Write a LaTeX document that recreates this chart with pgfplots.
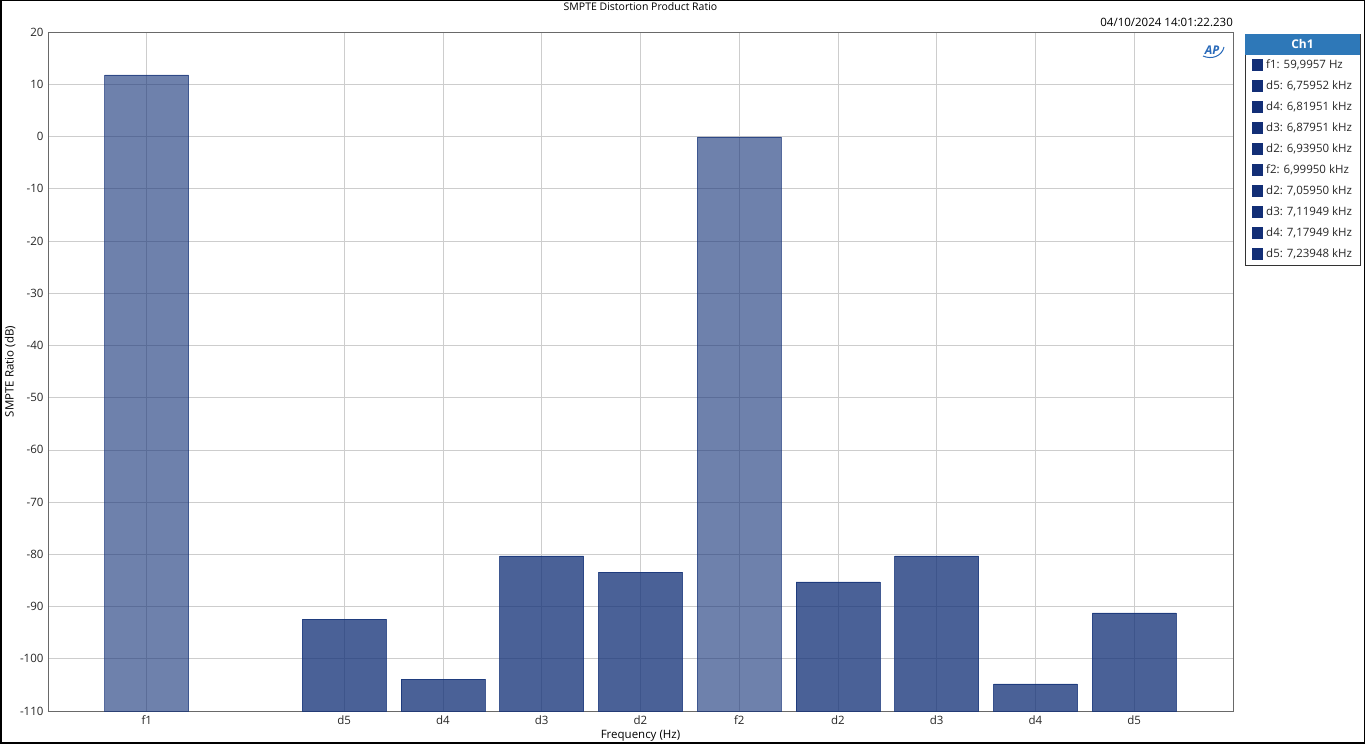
\documentclass[border=0pt]{standalone}
\usepackage{pgfplots}
\pgfplotsset{compat=1.18}
\usepackage{fontspec}
\setmainfont{Open Sans}
\definecolor{navy}{RGB}{20,50,120}
\definecolor{gridc}{RGB}{205,205,205}
\definecolor{axc}{RGB}{105,105,105}
\definecolor{hdr}{RGB}{46,120,184}
\definecolor{legsq}{RGB}{18,46,118}
\definecolor{aplogo}{RGB}{40,105,185}
\begin{document}
\begin{tikzpicture}[x=1pt,y=1pt]
\useasboundingbox (0,0) rectangle (1365,744);
\begin{axis}[
  at={(48pt,33pt)}, anchor=south west,
  scale only axis, width=1185pt, height=679pt,
  xmin=-1, xmax=11, ymin=-110, ymax=20,
  y coord trafo/.code={\pgfmathparse{#1+110}},
  y coord inv trafo/.code={\pgfmathparse{#1-110}},
  ytick={-110,-100,-90,-80,-70,-60,-50,-40,-30,-20,-10,0,10,20},
  yticklabels={-110,-100,-90,-80,-70,-60,-50,-40,-30,-20,-10,0,10,20},
  xtick={0,2,3,4,5,6,7,8,9,10},
  xticklabels={f1,d5,d4,d3,d2,f2,d2,d3,d4,d5},
  major tick length=0pt,
  grid=major,
  major grid style={gridc, line width=0.6pt},
  axis line style={axc, line width=0.8pt},
  tick label style={font=\fontsize{11.5}{13}\selectfont, text=black!85},
  yticklabel style={xshift=-1pt},
  xticklabel style={yshift=-1pt},
  /pgf/number format/assume math mode=true,
  title={SMPTE Distortion Product Ratio},
  title style={at={(axis description cs:0.5,1)}, yshift=19pt, anchor=center, font=\fontsize{10.5}{12}\selectfont},
  xlabel={Frequency (Hz)},
  x label style={at={(axis description cs:0.5,0)}, yshift=-25pt, anchor=center, font=\fontsize{11.5}{13}\selectfont},
  ylabel={SMPTE Ratio (dB)},
  y label style={at={(axis description cs:-0.032,0.5)}, anchor=center, font=\fontsize{11.5}{13}\selectfont},
  ybar, bar width=0.85,
]
\addplot[ybar, bar shift=0pt, fill=navy, fill opacity=0.615, draw=navy, draw opacity=0.7, line width=0.6pt]
  coordinates {(0,11.8) (6,-0.1)};
\addplot[ybar, bar shift=0pt, fill=navy, fill opacity=0.77, draw=navy, draw opacity=0.8, line width=0.6pt]
  coordinates {(2,-92.4) (3,-103.9) (4,-80.3) (5,-83.4) (7,-85.3) (8,-80.3) (9,-104.8) (10,-91.2)};
\end{axis}
% timestamp
\node[anchor=east, font=\fontsize{11.5}{13}\selectfont, inner sep=0pt] at (1233,722) {04/10/2024 14:01:22.230};
% AP logo
\node[font=\fontsize{12}{13}\selectfont\bfseries\itshape, text=aplogo, inner sep=0pt] at (1212,694) {AP};
\draw[aplogo, line width=1pt] (1203,688) .. controls (1212,684) and (1222,688) .. (1224,697);
% legend
\draw[black!80, line width=0.8pt] (1245,710) rectangle (1360,479);
\fill[hdr] (1245.4,709.6) rectangle (1359.6,689);
\node[text=white, font=\fontsize{12}{13}\selectfont\bfseries] at (1302.5,699.5) {Ch1};
\foreach \t [count=\i from 0] in {f1: 59{,}9957 Hz, d5: 6{,}75952 kHz, d4: 6{,}81951 kHz, d3: 6{,}87951 kHz, d2: 6{,}93950 kHz, f2: 6{,}99950 kHz, d2: 7{,}05950 kHz, d3: 7{,}11949 kHz, d4: 7{,}17949 kHz, d5: 7{,}23948 kHz}{
  \pgfmathsetmacro{\yy}{679-21*\i}
  \fill[legsq] (1252,\yy-6) rectangle (1263,\yy+6);
  \node[anchor=west, inner sep=0pt, font=\fontsize{11.5}{13}\selectfont, text=black!85] at (1266,\yy) {\t};
}
% outer frame
\draw[black, line width=1.5pt] (0.75,0.75) rectangle (1364.25,743.25);
\end{tikzpicture}
\end{document}
